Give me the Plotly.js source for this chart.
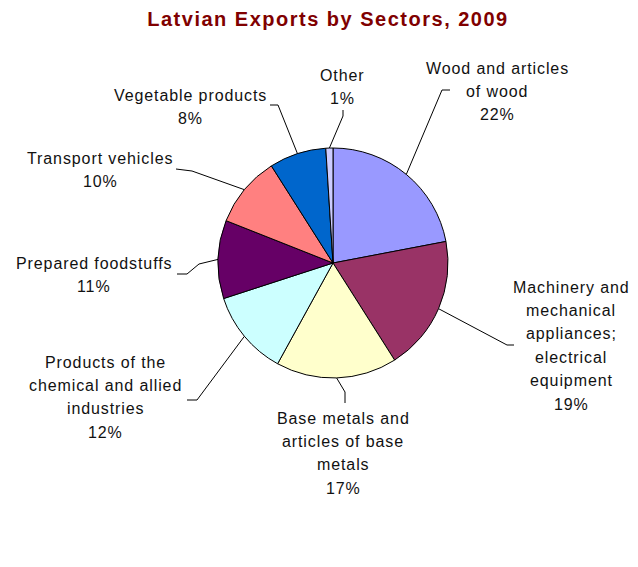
<!DOCTYPE html>
<html>
<head>
<meta charset="utf-8">
<script src="https://cdn.plot.ly/plotly-3.0.1.min.js"></script>
<style>html,body{margin:0;padding:0;background:#fff;}</style>
</head>
<body>
<div id="chart" style="width:638px;height:567px;"></div>
<script>
// ---- data ----
var categories = [
  "Wood and articles<br>of wood",
  "Machinery and<br>mechanical<br>appliances;<br>electrical<br>equipment",
  "Base metals and<br>articles of base<br>metals",
  "Products of the<br>chemical and allied<br>industries",
  "Prepared foodstuffs",
  "Transport vehicles",
  "Vegetable products",
  "Other"
];
var values = [22, 19, 17, 12, 11, 10, 8, 1];
var colors = ["#9999FF", "#993366", "#FFFFCC", "#CCFFFF", "#660066", "#FF8080", "#0066CC", "#CCCCFF"];
var chartTitle = "Latvian Exports by Sectors, 2009";

// ---- layout geometry (pixels) ----
var W = 638, H = 567;
var CX = 333, CY = 263, R = 115;
// label text centre x, first line centre y, and leader elbow points
var labelPos = [
  {x: 497, y: 68,  elbow: [[442, 90], [450, 90]]},
  {x: 571, y: 287, elbow: [[507, 345], [514, 345]]},
  {x: 343, y: 418, elbow: [[345, 392], [345, 403]]},
  {x: 105, y: 362, elbow: [[197, 400], [187, 400]]},
  {x: 94,  y: 263, elbow: [[199, 264], [187, 274], [177, 274]]},
  {x: 100, y: 158, elbow: [[192, 171], [176, 169]]},
  {x: 190, y: 95,  elbow: [[278, 105], [270, 105]]},
  {x: 342, y: 75,  elbow: [[343, 116], [343, 110]]}
];
var lineStep = 23.4;

function px(x) { return x / W; }
function py(y) { return 1 - y / H; }

var total = values.reduce(function (a, b) { return a + b; }, 0);
var annotations = [];
var shapes = [];
var cum = 0;
values.forEach(function (v, i) {
  var mid = (cum + v / 2) / total * 2 * Math.PI; // clockwise from 12 o'clock
  cum += v;
  var ex = CX + R * Math.sin(mid);
  var ey = CY - R * Math.cos(mid);
  var lp = labelPos[i];
  var path = "M" + px(ex) + "," + py(ey);
  lp.elbow.forEach(function (p) { path += " L" + px(p[0]) + "," + py(p[1]); });
  shapes.push({type: "path", xref: "paper", yref: "paper", path: path,
               line: {color: "#000", width: 1}});
  var lines = categories[i].split("<br>");
  lines.push(Math.round(v / total * 100) + "%");
  lines.forEach(function (t, k) {
    annotations.push({
      xref: "paper", yref: "paper",
      x: px(lp.x), y: py(lp.y + k * lineStep),
      xanchor: "center", yanchor: "middle",
      showarrow: false,
      text: '<span style="letter-spacing:0.9px">' + t + '</span>',
      font: {family: "Liberation Sans, Arial, sans-serif", size: 16, color: "#111"}
    });
  });
});

var trace = {
  type: "pie",
  labels: categories,
  values: values,
  sort: false,
  direction: "clockwise",
  rotation: 0,
  textinfo: "none",
  hoverinfo: "none",
  marker: {colors: colors, line: {color: "#000", width: 1}},
  domain: {x: [px(CX - R), px(CX + R)], y: [py(CY + R), py(CY - R)]}
};

var layout = {
  width: W, height: H,
  margin: {l: 0, r: 0, t: 0, b: 0},
  paper_bgcolor: "#fff",
  showlegend: false,
  title: {
    text: '<b><span style="letter-spacing:1.5px">' + chartTitle + '</span></b>',
    x: px(328), y: py(19), xref: "paper", yref: "paper",
    xanchor: "center", yanchor: "middle",
    font: {family: "Liberation Sans, Arial, sans-serif", size: 20, color: "#800000"}
  },
  annotations: annotations,
  shapes: shapes
};

Plotly.newPlot("chart", [trace], layout, {displayModeBar: false, staticPlot: true});
</script>
</body>
</html>
